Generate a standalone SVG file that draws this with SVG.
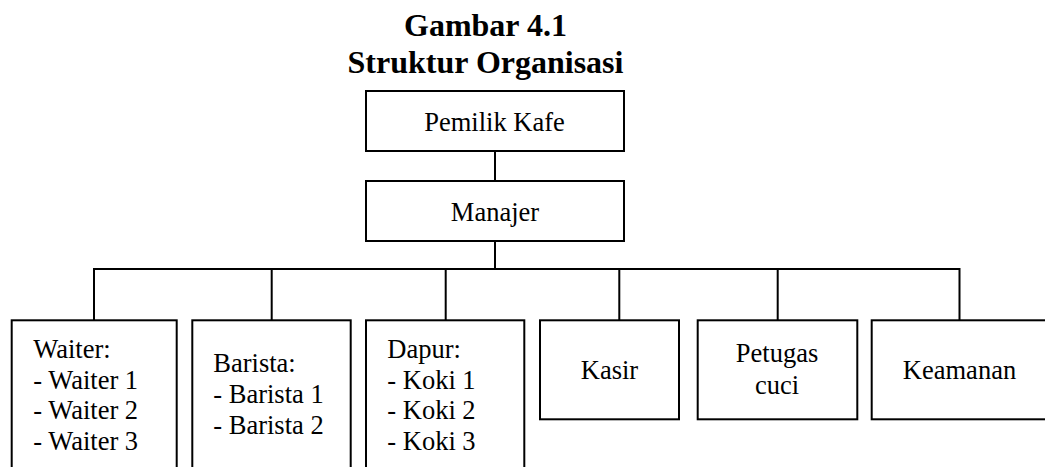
<svg xmlns="http://www.w3.org/2000/svg" width="1045" height="467" viewBox="0 0 1045 467">
<style>
.box{fill:#fff;stroke:#000;stroke-width:2}
.con{fill:none;stroke:#000;stroke-width:2}
.t{font-size:32px;font-weight:bold;text-anchor:middle}
.n{font-size:26.5px}
.c{text-anchor:middle}
</style>
<rect width="1045" height="467" fill="#fff"/>
<g font-family="'Liberation Serif', 'Times New Roman', 'DejaVu Serif', serif" fill="#000">
<g id="title">
<text class="t" x="485.5" y="36">Gambar 4.1</text>
<text class="t" x="485.5" y="72.5">Struktur Organisasi</text>
</g>
<g id="connectors">
<path class="con" d="M495 151V181"/>
<path class="con" d="M495 241V269"/>
<path class="con" d="M94 320V269H959.5V320"/>
<path class="con" d="M271.7 269V320M445.7 269V320M619.3 269V320M777.7 269V320"/>
</g>
<g id="pemilik">
<rect class="box" x="366" y="91" width="258" height="60"/>
<text class="n c" x="494.5" y="130.5">Pemilik Kafe</text>
</g>
<g id="manajer">
<rect class="box" x="366" y="181" width="258" height="60"/>
<text class="n c" x="495" y="220.5">Manajer</text>
</g>
<g id="waiter">
<rect class="box" x="11.7" y="320.3" width="165" height="160"/>
<text class="n" x="33.3" y="357.7">Waiter:</text>
<text class="n" x="33.3" y="388.5">- Waiter 1</text>
<text class="n" x="33.3" y="419.3">- Waiter 2</text>
<text class="n" x="33.3" y="450">- Waiter 3</text>
</g>
<g id="barista">
<rect class="box" x="192.3" y="320.3" width="158.4" height="160"/>
<text class="n" x="213.3" y="371.7">Barista:</text>
<text class="n" x="213.3" y="403">- Barista 1</text>
<text class="n" x="213.3" y="434.3">- Barista 2</text>
</g>
<g id="dapur">
<rect class="box" x="366" y="320.3" width="158.3" height="160"/>
<text class="n" x="387.3" y="358.3">Dapur:</text>
<text class="n" x="387.3" y="388.5">- Koki 1</text>
<text class="n" x="387.3" y="419.3">- Koki 2</text>
<text class="n" x="387.3" y="450">- Koki 3</text>
</g>
<g id="kasir">
<rect class="box" x="540" y="320.3" width="139" height="99"/>
<text class="n c" x="609.5" y="379.3">Kasir</text>
</g>
<g id="petugas">
<rect class="box" x="697.7" y="320.3" width="159.6" height="99"/>
<text class="n c" x="777" y="361.7">Petugas</text>
<text class="n c" x="777" y="394">cuci</text>
</g>
<g id="keamanan">
<rect class="box" x="871.7" y="320.3" width="180" height="99"/>
<text class="n c" x="959.5" y="379.3">Keamanan</text>
</g>
</g>
</svg>
